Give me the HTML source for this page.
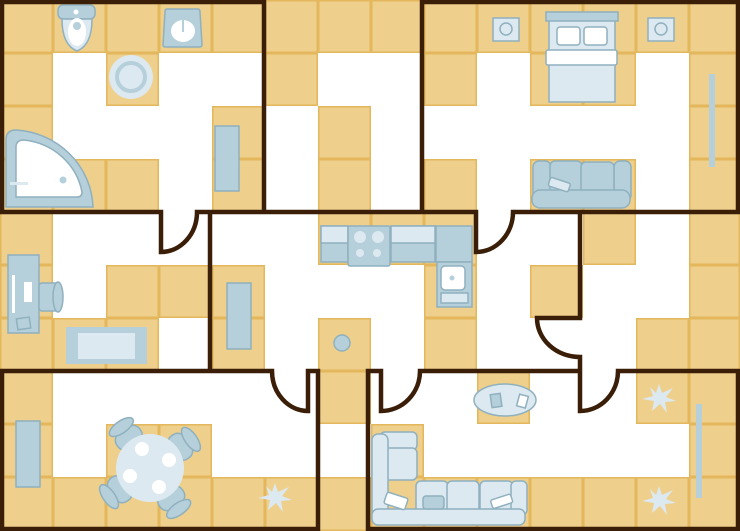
<!DOCTYPE html>
<html><head><meta charset="utf-8"><style>
html,body{margin:0;padding:0;background:#fff}
svg{display:block}
</style></head><body>
<svg id="plan" width="740" height="531" viewBox="0 0 740 531" xmlns="http://www.w3.org/2000/svg">
<g id="tiles"></g>
<g stroke="#8fb0bf" stroke-width="1.5">
  <!-- bathroom -->
  <g>
    <rect x="58" y="5" width="37" height="14" rx="5" fill="#b5d0da"/>
    <path d="M62,19 L92,19 Q92,45 77,51 Q62,45 62,19Z" fill="#dde9f0"/>
    <ellipse cx="77" cy="32" rx="9" ry="14" fill="#fff" stroke="none"/>
    <circle cx="77" cy="26" r="4" fill="#b5d0da" stroke="none"/>
    <circle cx="76" cy="12" r="2.5" fill="#fff" stroke="none"/>
  </g>
  <g>
    <path d="M167,9 L198,9 Q200,9 200,12 L202,45 Q202,47 199,47 L166,47 Q163,47 163,45 L165,12 Q165,9 167,9Z" fill="#b5d0da"/>
    <ellipse cx="183" cy="31" rx="12" ry="11" fill="#fff" stroke="none"/>
    <rect x="182" y="16" width="2" height="16" fill="#b5d0da" stroke="none"/>
  </g>
  <g>
    <circle cx="131" cy="77" r="22" fill="#dde9f0" stroke="none"/>
    <circle cx="131" cy="77" r="14" fill="#dde9f0" stroke="#b5d0da" stroke-width="4"/>
  </g>
  <rect x="215" y="126" width="24" height="65" fill="#b5d0da"/>
  <g>
    <path d="M6,207 L6,140 Q6,130 16,130 A82,80 0 0 1 93,207 Z" fill="#b5d0da"/>
    <path d="M16,197 L16,147 Q16,140 24,140 A66,64 0 0 1 82,192 Q82,197 77,197 Z" fill="#fff"/>
    <circle cx="63" cy="180" r="3.5" fill="#b5d0da" stroke="none"/>
    <rect x="10" y="182" width="18" height="3" fill="#dde9f0" stroke="none"/>
  </g>
  <!-- bedroom -->
  <g>
    <rect x="493" y="18" width="26" height="23" fill="#dde9f0"/>
    <circle cx="506" cy="29" r="6" fill="none"/>
  </g>
  <g>
    <rect x="648" y="18" width="26" height="23" fill="#dde9f0"/>
    <circle cx="661" cy="29" r="6" fill="none"/>
  </g>
  <g>
    <rect x="549" y="20" width="66" height="82" fill="#dde9f0"/>
    <rect x="546" y="12" width="72" height="9" fill="#b5d0da"/>
    <rect x="557" y="27" width="23" height="18" rx="3" fill="#fff"/>
    <rect x="584" y="27" width="23" height="18" rx="3" fill="#fff"/>
    <rect x="546" y="50" width="71" height="15" rx="2" fill="#fff"/>
  </g>
  <rect x="709" y="74" width="6" height="93" fill="#b5d0da" stroke="none"/>
  <g>
    <rect x="533" y="161" width="18" height="40" rx="6" fill="#b5d0da"/>
    <rect x="614" y="161" width="17" height="40" rx="6" fill="#b5d0da"/>
    <rect x="550" y="161" width="32" height="35" rx="5" fill="#b5d0da"/>
    <rect x="581" y="162" width="33" height="34" rx="5" fill="#b5d0da"/>
    <rect x="532" y="190" width="98" height="18" rx="8" fill="#b5d0da"/>
    <rect x="549" y="180" width="21" height="9" rx="2" fill="#dde9f0" transform="rotate(18 559 184)"/>
  </g>
  <!-- kitchen -->
  <g>
    <rect x="321" y="226" width="27" height="36" fill="#b5d0da"/>
    <rect x="321" y="226" width="27" height="17" fill="#dde9f0"/>
    <rect x="348" y="226" width="42" height="40" rx="2" fill="#b5d0da"/>
    <circle cx="360" cy="237" r="6" fill="#dde9f0" stroke="none"/>
    <circle cx="378" cy="237" r="6" fill="#dde9f0" stroke="none"/>
    <circle cx="360" cy="253" r="4" fill="#dde9f0" stroke="none"/>
    <circle cx="377" cy="253" r="4" fill="#dde9f0" stroke="none"/>
    <rect x="391" y="226" width="44" height="36" fill="#b5d0da"/>
    <rect x="391" y="226" width="44" height="17" fill="#dde9f0"/>
    <rect x="436" y="226" width="36" height="36" fill="#b5d0da"/>
  </g>
  <g>
    <rect x="437" y="262" width="35" height="45" fill="#b5d0da"/>
    <rect x="441" y="266" width="24" height="24" rx="4" fill="#fff"/>
    <rect x="441" y="293" width="27" height="10" fill="#dde9f0"/>
    <circle cx="452" cy="278" r="2.5" fill="#b5d0da" stroke="none"/>
  </g>
  <!-- living / office -->
  <g>
    <rect x="8" y="255" width="31" height="78" fill="#b5d0da"/>
    <rect x="12" y="275" width="3" height="38" fill="#fff" stroke="none"/>
    <rect x="24" y="282" width="8" height="20" fill="#fff" stroke="none"/>
    <rect x="17" y="318" width="13" height="11" fill="#b5d0da" transform="rotate(-8 23 323)"/>
  </g>
  <g>
    <rect x="39" y="283" width="20" height="28" rx="3" fill="#b5d0da"/>
    <ellipse cx="58" cy="297" rx="5" ry="15" fill="#b5d0da"/>
  </g>
  <g>
    <rect x="66" y="327" width="81" height="37" fill="#b5d0da" stroke="none"/>
    <rect x="78" y="333" width="57" height="26" fill="#dde9f0" stroke="none"/>
  </g>
  <rect x="227" y="283" width="24" height="66" fill="#b5d0da"/>
  <circle cx="342" cy="343" r="8" fill="#b5d0da"/>
  <!-- dining -->
  <rect x="16" y="421" width="24" height="66" fill="#b5d0da"/>
  <g transform="translate(150,468)">
    <g transform="rotate(-35)">
      <rect x="-14" y="-46" width="28" height="18" rx="8" fill="#b5d0da"/>
      <ellipse cx="0" cy="-50" rx="14" ry="6" fill="#b5d0da"/>
      <rect x="-14" y="28" width="28" height="18" rx="8" fill="#b5d0da"/>
      <ellipse cx="0" cy="50" rx="14" ry="6" fill="#b5d0da"/>
      <rect x="-46" y="-14" width="18" height="28" rx="8" fill="#b5d0da"/>
      <ellipse cx="-50" cy="0" rx="6" ry="14" fill="#b5d0da"/>
      <rect x="28" y="-14" width="18" height="28" rx="8" fill="#b5d0da"/>
      <ellipse cx="50" cy="0" rx="6" ry="14" fill="#b5d0da"/>
    </g>
    <circle cx="0" cy="0" r="34" fill="#dde9f0" stroke="none"/>
    <circle cx="-8" cy="-19" r="7" fill="#fff" stroke="none"/>
    <circle cx="19" cy="-8" r="7" fill="#fff" stroke="none"/>
    <circle cx="-20" cy="8" r="7" fill="#fff" stroke="none"/>
    <circle cx="9" cy="19" r="7" fill="#fff" stroke="none"/>
  </g>
  <!-- lounge -->
  <g>
    <ellipse cx="505" cy="400" rx="31" ry="16" fill="#dde9f0"/>
    <rect x="491" y="394" width="10" height="13" fill="#b5d0da" transform="rotate(-8 496 400)"/>
    <rect x="518" y="395" width="9" height="12" fill="#fff" transform="rotate(15 522 401)"/>
  </g>
  <g>
    <rect x="380" y="432" width="37" height="18" rx="5" fill="#dde9f0"/>
    <rect x="380" y="448" width="37" height="32" rx="5" fill="#dde9f0"/>
    <rect x="416" y="481" width="32" height="34" rx="5" fill="#dde9f0"/>
    <rect x="447" y="481" width="32" height="34" rx="5" fill="#dde9f0"/>
    <rect x="480" y="481" width="33" height="34" rx="5" fill="#dde9f0"/>
    <rect x="511" y="481" width="16" height="34" rx="5" fill="#dde9f0"/>
    <rect x="372" y="434" width="16" height="90" rx="6" fill="#dde9f0"/>
    <rect x="372" y="509" width="153" height="16" rx="6" fill="#dde9f0"/>
    <rect x="423" y="496" width="21" height="13" rx="3" fill="#b5d0da"/>
    <rect x="385" y="495" width="22" height="12" rx="2" fill="#fff" transform="rotate(18 396 501)"/>
    <rect x="491" y="497" width="21" height="9" rx="2" fill="#fff" transform="rotate(-18 501 501)"/>
  </g>
  <rect x="696" y="404" width="6" height="94" fill="#b5d0da" stroke="none"/>
  <g fill="#dde9f0" stroke="none">
    <path d="M275,483 L278,492 L289,487 L282,496 L292,500 L281,501 L283,512 L276,503 L268,510 L270,500 L258,498 L269,495 L266,486 L272,492Z"/>
    <path d="M659,384 L662,393 L673,388 L666,397 L676,401 L665,402 L667,413 L660,404 L652,411 L654,401 L642,399 L653,396 L650,387 L656,393Z"/>
    <path d="M659,486 L662,495 L673,490 L666,499 L676,503 L665,504 L667,515 L660,506 L652,513 L654,503 L642,501 L653,498 L650,489 L656,495Z"/>
  </g>
</g>
<g fill="none" stroke="#3a1e08" stroke-width="4.5" stroke-linejoin="miter">
  <path d="M2,212 L2,2 L264,2 L264,212"/>
  <path d="M0,212 L161,212 L161,252 A36,40 0 0 0 197,212 L476,212 L476,252 A37,40 0 0 0 513,212 L740,212"/>
  <path d="M422,212 L422,2 L738,2 L738,212"/>
  <path d="M210,212 L210,371"/>
  <path d="M580,212 L580,318 L537,318 A43,39 0 0 0 580,357 L580,411 A38,40 0 0 0 618,371 L738,371 L738,529 L368,529 L368,371 L381,371 L381,411 A39,40 0 0 0 420,371 L580,371"/>
  <path d="M0,371 L272,371 A36,40 0 0 0 308,411 L308,371 L318,371 L318,529 L2,529 L2,371"/>
</g>
</svg>
<script>
const tileRows = [
  "TTTTTTTTTTTTTT",
  "TWTWWTWWTWTTWT",
  "TWWWTWTWWWWWWT",
  "TTTWTWTWTWTTWT",
  "TWWWWWTTTWWTWT",
  "TWTTTWWWTWTWWT",
  "TTTWTWTWTWWWTT",
  "TWWWWWTWWTWWTT",
  "TWTTWWWTWWWWWT",
  "TTTTTTTTTTTTTT"
];
const colEdges = [0,53,106,159,212,265,318,371,424,477,530,583,636,689,740];
const rowEdges = [0,53,106,159,212,265,318,371,424,477,531];
const g = document.getElementById('tiles');
const NS = 'http://www.w3.org/2000/svg';
for (let r = 0; r < tileRows.length; r++) {
  for (let c = 0; c < 14; c++) {
    if (tileRows[r][c] !== 'T') continue;
    const el = document.createElementNS(NS, 'rect');
    el.setAttribute('x', colEdges[c] + 0.75);
    el.setAttribute('y', rowEdges[r] + 0.75);
    el.setAttribute('width', colEdges[c+1] - colEdges[c] - 1.5);
    el.setAttribute('height', rowEdges[r+1] - rowEdges[r] - 1.5);
    el.setAttribute('fill', '#eecf8c');
    el.setAttribute('stroke', '#e4b75c');
    el.setAttribute('stroke-width', '1.5');
    
    
    g.appendChild(el);
  }
}
</script>
</body></html>
